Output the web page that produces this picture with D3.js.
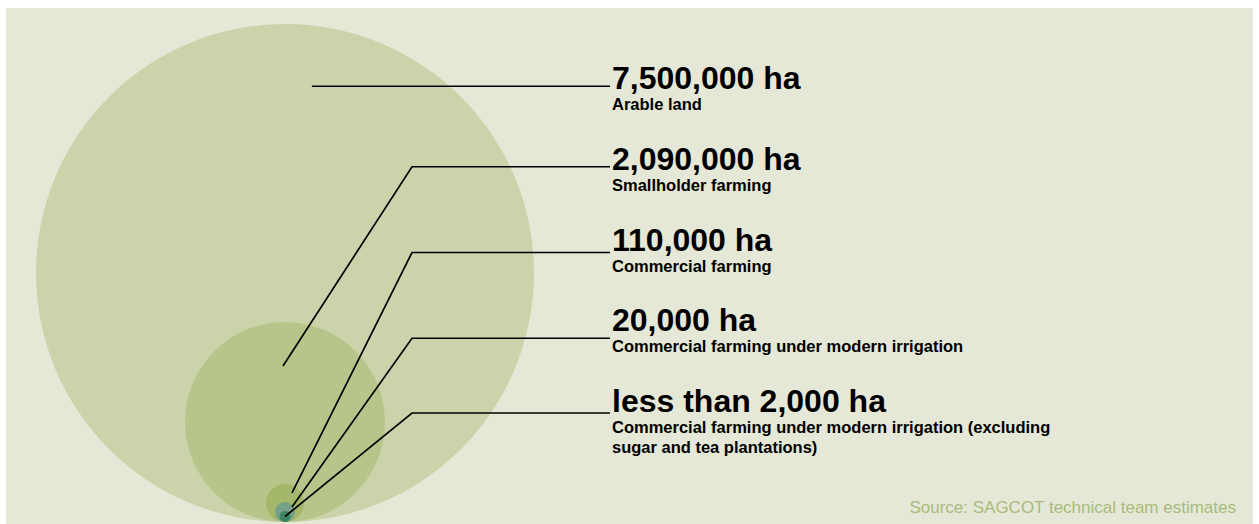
<!DOCTYPE html>
<html>
<head>
<meta charset="utf-8">
<title>SAGCOT land use</title>
<style>
  body { margin: 0; background: #fff; }
  svg { display: block; }
  .value { font-family: "Liberation Sans", Arial, sans-serif; font-weight: bold; font-size: 32px; fill: #000; }
  .desc { font-family: "Liberation Sans", Arial, sans-serif; font-weight: bold; font-size: 16.5px; fill: #000; }
  .source { font-family: "Liberation Sans", Arial, sans-serif; font-size: 17px; fill: #a9bb7c; }
  .leader { fill: none; stroke: #000; stroke-width: 1.7px; }
</style>
<script src="https://cdn.jsdelivr.net/npm/d3@7"></script>
</head>
<body>
<script>
  // data
  var categories = [
    'Arable land',
    'Smallholder farming',
    'Commercial farming',
    'Commercial farming under modern irrigation',
    'Commercial farming under modern irrigation (excluding sugar and tea plantations)'
  ];
  var hectares = [7500000, 2090000, 110000, 20000, 2000];
  var valueLabels = ['7,500,000 ha', '2,090,000 ha', '110,000 ha', '20,000 ha', 'less than 2,000 ha'];
  var sourceText = 'Source: SAGCOT technical team estimates';

  var width = 1259, height = 524;
  var cx = 285, baseY = 522;      // circles all sit on the same bottom point
  var labelX = 612, lineEndX = 610, elbowX = 412;

  // circle size per value (hand-drawn in the original, so piecewise)
  var rScale = d3.scaleLinear()
    .domain(hectares.slice().reverse())
    .range([5.5, 10, 19, 100, 249]);

  var colour = d3.scaleOrdinal()
    .domain(categories)
    .range(['#cbd3ab', '#b8c58a', '#a4b86b', '#76a08a', '#3f8462']);

  var yLabel = d3.scalePoint()
    .domain(categories)
    .range([89, 412]);

  // where each leader line touches its circle (in radius units) and its vertical nudge
  var anchors = [[0.108, -0.75], [-0.02, -0.56], [0.37, -0.53], [0.7, -0.5], [0, 0]];
  var leaderDy = [-3, -3, 2, 7, 1];

  var svg = d3.select('body').append('svg')
    .attr('width', width)
    .attr('height', height);

  svg.append('rect')
    .attr('x', 6).attr('y', 8)
    .attr('width', 1247).attr('height', height - 8)
    .attr('fill', '#e5e8d6');

  var data = categories.map(function (c, i) {
    return { cat: c, value: hectares[i], label: valueLabels[i], i: i };
  });

  // circles
  svg.append('g').selectAll('circle')
    .data(data)
    .join('circle')
    .attr('cx', cx)
    .attr('cy', d => baseY - rScale(d.value))
    .attr('r', d => rScale(d.value))
    .attr('fill', d => colour(d.cat));

  // leader lines
  svg.append('g').selectAll('path')
    .data(data)
    .join('path')
    .attr('class', 'leader')
    .attr('d', function (d) {
      var r = rScale(d.value);
      var ax = cx + anchors[d.i][0] * r,
        ay = baseY - r + anchors[d.i][1] * r;
      var ly = yLabel(d.cat) + leaderDy[d.i];
      if (d.i === 0) ly = ay;
      return 'M' + ax + ',' + ay + 'L' + Math.max(ax, elbowX) + ',' + ly + 'L' + lineEndX + ',' + ly;
    });

  // labels
  var labels = svg.append('g').selectAll('g')
    .data(data)
    .join('g')
    .attr('transform', d => 'translate(' + labelX + ',' + yLabel(d.cat) + ')');

  labels.append('text')
    .attr('class', 'value')
    .text(d => d.label);

  labels.append('text')
    .attr('class', 'desc')
    .attr('y', 21)
    .each(function (d) {
      // simple word wrap
      var t = d3.select(this), words = d.cat.split(' '), line = [];
      var ts = t.append('tspan').attr('x', 0).attr('dy', 0);
      words.forEach(function (w) {
        line.push(w);
        ts.text(line.join(' '));
        if (ts.node().getComputedTextLength() > 450 && line.length > 1) {
          line.pop();
          ts.text(line.join(' '));
          line = [w];
          ts = t.append('tspan').attr('x', 0).attr('dy', 20).text(w);
        }
      });
    });

  svg.append('text')
    .attr('class', 'source')
    .attr('x', 1236)
    .attr('y', 513)
    .attr('text-anchor', 'end')
    .text(sourceText);
</script>
</body>
</html>
